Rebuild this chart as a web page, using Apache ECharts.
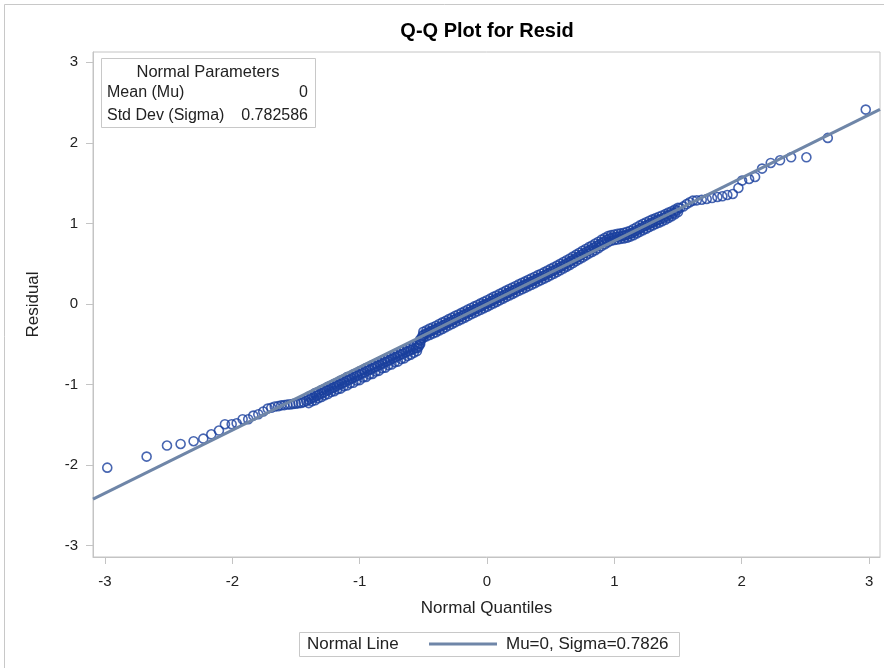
<!DOCTYPE html>
<html><head><meta charset="utf-8">
<script src="https://cdn.jsdelivr.net/npm/echarts@6/dist/echarts.min.js"></script>
<style>html,body{margin:0;padding:0;background:#fff}#c{width:884px;height:668px}</style>
</head><body><div id="c"></div>
<script>
// ---- data (normal quantile, residual) ----
const xTicks = [-3, -2, -1, 0, 1, 2, 3];
const yTicks = [-3, -2, -1, 0, 1, 2, 3];
const lowerTail = [[-2.982,-2.031],[-2.673,-1.894],[-2.513,-1.757],[-2.406,-1.737],[-2.304,-1.703],[-2.228,-1.671],[-2.165,-1.617],[-2.105,-1.571],[-2.058,-1.492],[-2.005,-1.492],[-1.966,-1.480],[-1.919,-1.430],[-1.875,-1.430],[-1.835,-1.385],[-1.796,-1.368],[-1.757,-1.335]];
const lowerPlateau = [[-1.722,-1.298],[-1.694,-1.288],[-1.667,-1.272],[-1.641,-1.268],[-1.616,-1.258],[-1.592,-1.255],[-1.568,-1.248],[-1.545,-1.246],[-1.523,-1.240],[-1.501,-1.238],[-1.480,-1.232],[-1.460,-1.228],[-1.440,-1.218],[-1.420,-1.205]];
const lowerBand = [[-1.40,-1.190],[-1.38,-1.172],[-1.36,-1.160],[-1.34,-1.138],[-1.32,-1.128],[-1.30,-1.110],[-1.28,-1.096],[-1.26,-1.075],[-1.24,-1.066],[-1.22,-1.046],[-1.20,-1.032],[-1.18,-1.018],[-1.16,-0.998],[-1.14,-0.986],[-1.12,-0.970],[-1.10,-0.950],[-1.08,-0.940],[-1.06,-0.921],[-1.04,-0.908],[-1.02,-0.890],[-1.00,-0.878],[-0.98,-0.860],[-0.96,-0.848],[-0.94,-0.828],[-0.92,-0.815],[-0.90,-0.800],[-0.88,-0.786],[-0.86,-0.768],[-0.84,-0.756],[-0.82,-0.740],[-0.80,-0.722],[-0.78,-0.710],[-0.76,-0.692],[-0.74,-0.678],[-0.72,-0.662],[-0.70,-0.648],[-0.68,-0.630],[-0.66,-0.618],[-0.64,-0.600],[-0.62,-0.588],[-0.60,-0.572],[-0.58,-0.560],[-0.56,-0.548]];
const jumpBand = [[-0.545,-0.545],[-0.536,-0.525],[-0.528,-0.490],[-0.521,-0.455],[-0.514,-0.425],[-0.507,-0.398],[-0.500,-0.382]];
const centerBand = [[-0.48,-0.368],[-0.46,-0.352],[-0.44,-0.338],[-0.42,-0.322],[-0.40,-0.310],[-0.38,-0.290],[-0.36,-0.276],[-0.34,-0.262],[-0.32,-0.245],[-0.30,-0.228],[-0.28,-0.214],[-0.26,-0.196],[-0.24,-0.180],[-0.22,-0.166],[-0.20,-0.150],[-0.18,-0.132],[-0.16,-0.118],[-0.14,-0.100],[-0.12,-0.086],[-0.10,-0.070],[-0.08,-0.056],[-0.06,-0.040],[-0.04,-0.024],[-0.02,-0.008],[0.00,0.006],[0.02,0.022],[0.04,0.040],[0.06,0.055],[0.08,0.070],[0.10,0.086],[0.12,0.100],[0.14,0.118],[0.16,0.134],[0.18,0.148],[0.20,0.165],[0.22,0.180],[0.24,0.196],[0.26,0.212],[0.28,0.226],[0.30,0.240],[0.32,0.256],[0.34,0.272],[0.36,0.286],[0.38,0.302],[0.40,0.318],[0.42,0.332],[0.44,0.348],[0.46,0.362],[0.48,0.380],[0.50,0.396],[0.52,0.412],[0.54,0.428],[0.56,0.445],[0.58,0.462],[0.60,0.480],[0.62,0.498],[0.64,0.516],[0.66,0.535],[0.68,0.552],[0.70,0.572]];
const upperBulge = [[0.72,0.590],[0.74,0.610],[0.76,0.628],[0.78,0.648],[0.80,0.665],[0.82,0.682],[0.84,0.700],[0.86,0.718],[0.88,0.738],[0.90,0.758],[0.92,0.776],[0.94,0.795],[0.96,0.812]];
const upperFlat = [[0.98,0.822],[1.00,0.828],[1.02,0.834],[1.04,0.838],[1.06,0.845],[1.08,0.850],[1.10,0.858],[1.12,0.868],[1.14,0.882],[1.16,0.900]];
const upperBand = [[1.18,0.918],[1.20,0.935],[1.22,0.952],[1.24,0.968],[1.26,0.982],[1.28,0.998],[1.30,1.012],[1.32,1.028],[1.34,1.040],[1.36,1.050],[1.385,1.068],[1.41,1.090],[1.435,1.110],[1.463,1.129],[1.49,1.160],[1.515,1.190],[1.542,1.211],[1.568,1.240],[1.592,1.262]];
const upperTail = [[1.616,1.282],[1.647,1.286],[1.686,1.294],[1.725,1.303],[1.767,1.315],[1.809,1.328],[1.848,1.336],[1.887,1.353],[1.930,1.365],[1.974,1.440],[2.003,1.531],[2.058,1.551],[2.105,1.576],[2.160,1.680],[2.228,1.750],[2.301,1.783],[2.388,1.820],[2.508,1.820],[2.676,2.061],[2.974,2.412]];
// upper and lower edges of the dense band of overlapping points
const bandTopEdge = [[-1.40,-1.150],[-1.35,-1.105],[-1.30,-1.068],[-1.25,-1.028],[-1.20,-0.990],[-1.15,-0.950],[-1.10,-0.908],[-1.05,-0.872],[-1.00,-0.835],[-0.95,-0.796],[-0.90,-0.758],[-0.85,-0.722],[-0.80,-0.682],[-0.75,-0.645],[-0.70,-0.608],[-0.65,-0.570],[-0.60,-0.535],[-0.55,-0.505],[-0.50,-0.345],[-0.45,-0.305],[-0.40,-0.270],[-0.35,-0.228],[-0.30,-0.188],[-0.25,-0.148],[-0.20,-0.110],[-0.15,-0.068],[-0.10,-0.030],[-0.05,0.008],[0.00,0.046],[0.05,0.088],[0.10,0.126],[0.15,0.166],[0.20,0.205],[0.25,0.244],[0.30,0.280],[0.35,0.320],[0.40,0.358],[0.45,0.395],[0.50,0.436],[0.55,0.476],[0.60,0.520],[0.65,0.565],[0.70,0.612],[0.75,0.660],[0.80,0.705],[0.85,0.750],[0.90,0.798],[0.95,0.842],[1.00,0.862],[1.05,0.876],[1.10,0.895],[1.15,0.930],[1.20,0.975],[1.25,1.015],[1.30,1.050],[1.35,1.082],[1.40,1.115],[1.45,1.150],[1.50,1.195]];
const bandLowEdge = [[-1.40,-1.230],[-1.35,-1.195],[-1.30,-1.155],[-1.25,-1.118],[-1.20,-1.082],[-1.15,-1.050],[-1.10,-1.012],[-1.05,-0.978],[-1.00,-0.945],[-0.95,-0.905],[-0.90,-0.868],[-0.85,-0.830],[-0.80,-0.790],[-0.75,-0.752],[-0.70,-0.715],[-0.65,-0.675],[-0.60,-0.630],[-0.55,-0.585],[-0.50,-0.420],[-0.45,-0.385],[-0.40,-0.350],[-0.35,-0.310],[-0.30,-0.268],[-0.25,-0.228],[-0.20,-0.190],[-0.15,-0.150],[-0.10,-0.110],[-0.05,-0.072],[0.00,-0.034],[0.05,0.006],[0.10,0.046],[0.15,0.086],[0.20,0.125],[0.25,0.164],[0.30,0.200],[0.35,0.238],[0.40,0.278],[0.45,0.315],[0.50,0.356],[0.55,0.396],[0.60,0.440],[0.65,0.485],[0.70,0.532],[0.75,0.578],[0.80,0.625],[0.85,0.668],[0.90,0.718],[0.95,0.765],[1.00,0.795],[1.05,0.808],[1.10,0.822],[1.15,0.852],[1.20,0.895],[1.25,0.935],[1.30,0.975],[1.35,1.008],[1.40,1.045],[1.45,1.090],[1.50,1.140]];
const bandTopMid = [[-1.375,-1.132],[-1.325,-1.092],[-1.275,-1.052],[-1.225,-1.012],[-1.175,-0.975],[-1.125,-0.935],[-1.075,-0.898],[-1.025,-0.858],[-0.975,-0.818],[-0.925,-0.780],[-0.875,-0.742],[-0.825,-0.705],[-0.775,-0.668],[-0.725,-0.628],[-0.675,-0.590],[-0.625,-0.552],[-0.575,-0.520],[-0.525,-0.440],[-0.475,-0.326],[-0.425,-0.288],[-0.375,-0.248],[-0.325,-0.210],[-0.275,-0.170],[-0.225,-0.130],[-0.175,-0.090],[-0.125,-0.050],[-0.075,-0.012],[-0.025,0.028],[0.025,0.066],[0.075,0.106],[0.125,0.145],[0.175,0.185],[0.225,0.224],[0.275,0.262],[0.325,0.300],[0.375,0.338],[0.425,0.376],[0.475,0.415],[0.525,0.456],[0.575,0.498],[0.625,0.543],[0.675,0.588],[0.725,0.635],[0.775,0.683],[0.825,0.726],[0.875,0.773],[0.925,0.820],[0.975,0.855],[1.025,0.870],[1.075,0.884],[1.125,0.908],[1.175,0.953],[1.225,0.995],[1.275,1.032],[1.325,1.066],[1.375,1.098],[1.425,1.135],[1.475,1.172]];
const bandLowMid = [[-1.375,-1.208],[-1.325,-1.170],[-1.275,-1.132],[-1.225,-1.092],[-1.175,-1.058],[-1.125,-1.020],[-1.075,-0.985],[-1.025,-0.950],[-0.975,-0.912],[-0.925,-0.875],[-0.875,-0.838],[-0.825,-0.798],[-0.775,-0.760],[-0.725,-0.722],[-0.675,-0.682],[-0.625,-0.645],[-0.575,-0.605],[-0.525,-0.500],[-0.475,-0.402],[-0.425,-0.366],[-0.375,-0.328],[-0.325,-0.288],[-0.275,-0.248],[-0.225,-0.208],[-0.175,-0.170],[-0.125,-0.128],[-0.075,-0.090],[-0.025,-0.052],[0.025,-0.014],[0.075,0.026],[0.125,0.066],[0.175,0.105],[0.225,0.144],[0.275,0.182],[0.325,0.220],[0.375,0.258],[0.425,0.296],[0.475,0.335],[0.525,0.376],[0.575,0.418],[0.625,0.463],[0.675,0.508],[0.725,0.555],[0.775,0.603],[0.825,0.646],[0.875,0.693],[0.925,0.742],[0.975,0.785],[1.025,0.800],[1.075,0.814],[1.125,0.836],[1.175,0.876],[1.225,0.916],[1.275,0.956],[1.325,0.993],[1.375,1.026],[1.425,1.068],[1.475,1.115]];
const lineX = [-3.094, 3.086];
const lineY = [-2.421, 2.415];
const paramNames = ['Mean (Mu)', 'Std Dev (Sigma)'];
const paramValues = ['0', '0.782586'];
const lineLegend = 'Mu=0, Sigma=0.7826';

const points = [].concat(lowerTail, lowerPlateau, lowerBand, jumpBand, centerBand, upperBulge, upperFlat, upperBand, upperTail, bandTopEdge, bandLowEdge, bandTopMid, bandLowMid);
const linePts = lineX.map((x, i) => [x, lineY[i]]);

const FONT = "'Liberation Sans', Arial, sans-serif";
const GRID = '#c4c4c4';
const chart = echarts.init(document.getElementById('c'), null, {renderer: 'canvas'});
chart.setOption({
  animation: false,
  backgroundColor: '#fff',
  textStyle: {fontFamily: FONT},
  title: {text: 'Q-Q Plot for Resid', left: 487, top: 21, textAlign: 'center', padding: 0,
    textStyle: {fontFamily: FONT, fontSize: 20, fontWeight: 'bold', color: '#000'}},
  grid: {left: 93, top: 52, right: 4, bottom: 111, show: true, borderColor: GRID, borderWidth: 1, outerBoundsMode: 'none', containLabel: false},
  xAxis: {type: 'value', min: -3.094, max: 3.086,
    name: 'Normal Quantiles', nameLocation: 'middle', nameGap: 43,
    nameTextStyle: {fontFamily: FONT, fontSize: 17, color: '#222'},
    axisLine: {show: true, onZero: false, lineStyle: {color: GRID}},
    axisTick: {show: true, length: 7, lineStyle: {color: GRID}, customValues: xTicks},
    axisLabel: {margin: 17, fontFamily: FONT, fontSize: 15, color: '#222', customValues: xTicks},
    splitLine: {show: false}},
  yAxis: {type: 'value', min: -3.14, max: 3.127,
    name: 'Residual', nameLocation: 'middle', nameGap: 51, nameRotate: 90,
    nameTextStyle: {fontFamily: FONT, fontSize: 17, color: '#222'},
    axisLine: {show: true, onZero: false, lineStyle: {color: GRID}},
    axisTick: {show: true, length: 7, lineStyle: {color: GRID}, customValues: yTicks},
    axisLabel: {margin: 15, fontFamily: FONT, fontSize: 15, color: '#222', customValues: yTicks},
    splitLine: {show: false}},
  legend: {show: true, data: [{name: lineLegend, icon: 'rect'}], left: 429, top: 635, padding: 0,
    itemWidth: 68, itemHeight: 3, itemGap: 0, selectedMode: false,
    textStyle: {fontFamily: FONT, fontSize: 17, color: '#222', padding: [0, 0, 0, 4], lineHeight: 18}},
  series: [
    {type: 'scatter', name: 'Residual', data: points, symbol: 'circle', symbolSize: 9, z: 2,
      itemStyle: {color: 'rgba(0,0,0,0)', borderColor: '#1a409e', borderWidth: 1.6}},
    {type: 'line', name: lineLegend, data: linePts, showSymbol: false, symbol: 'none', z: 3,
      lineStyle: {color: '#6f86a8', width: 3}, itemStyle: {color: '#6f86a8'}}
  ],
  graphic: [
    {type: 'rect', shape: {x: 4.5, y: 4.5, width: 920, height: 720}, silent: true,
      style: {fill: null, stroke: '#c8c8c8', lineWidth: 1}},
    {type: 'group', left: 101, top: 58, children: [
      {type: 'rect', shape: {x: 0.5, y: 0.5, width: 214, height: 69}, style: {fill: '#fff', stroke: '#c8c8c8', lineWidth: 1}},
      {type: 'text', x: 107, y: 14, style: {text: 'Normal Parameters', fontFamily: FONT, fontSize: 16.5, fill: '#222', align: 'center', verticalAlign: 'middle'}},
      {type: 'text', x: 6, y: 35, style: {text: paramNames[0], fontFamily: FONT, fontSize: 16, fill: '#222', align: 'left', verticalAlign: 'middle'}},
      {type: 'text', x: 207, y: 35, style: {text: paramValues[0], fontFamily: FONT, fontSize: 16, fill: '#222', align: 'right', verticalAlign: 'middle'}},
      {type: 'text', x: 6, y: 58, style: {text: paramNames[1], fontFamily: FONT, fontSize: 16, fill: '#222', align: 'left', verticalAlign: 'middle'}},
      {type: 'text', x: 207, y: 58, style: {text: paramValues[1], fontFamily: FONT, fontSize: 16, fill: '#222', align: 'right', verticalAlign: 'middle'}}
    ]},
    {type: 'rect', left: 299, top: 632, shape: {x: 0.5, y: 0.5, width: 380, height: 24}, z: -1,
      style: {fill: '#fff', stroke: '#c8c8c8', lineWidth: 1}},
    {type: 'text', left: 307, top: 636, style: {text: 'Normal Line', fontFamily: FONT, fontSize: 17, fill: '#222'}}
  ]
});
</script></body></html>
